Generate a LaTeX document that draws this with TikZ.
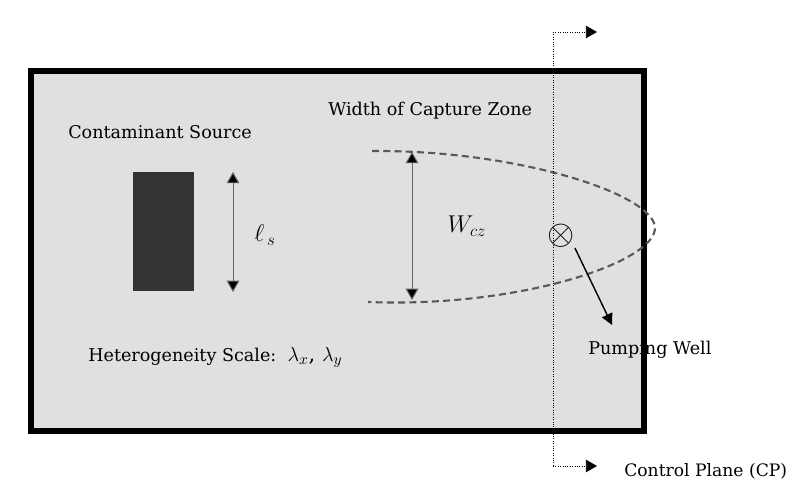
\documentclass[tikz,border=0pt]{standalone}
\usepackage{fontspec}
\setmainfont{DejaVu Serif}
\usetikzlibrary{arrows.meta}

\begin{document}
\begin{tikzpicture}[x=0.025cm,y=-0.025cm,
    lbl/.style={font=\fontsize{12.5}{15}\selectfont, inner sep=0pt, anchor=west},
    dimarrow/.style={draw=black!60, line width=0.7pt, {Triangle[length=8pt,width=9pt,fill=black]}-{Triangle[length=8pt,width=9pt,fill=black]}},
    cparrow/.style={densely dotted, line width=0.7pt, -{Triangle[length=8pt,width=9pt]}}]
			\useasboundingbox (0,0) rectangle (802,504);
			
			% Domain
			\filldraw[fill=black!12, draw=black, line width=4pt] (31,71) rectangle (644,431);
			
			% Define nodes
			\node (src) at (163.5,231.5) [fill=black!80, minimum width=61*0.025cm, minimum height=119*0.025cm, inner sep=0pt] {};
			\node (srclbl) at (68,132) [lbl] {Contaminant Source};
			\node (czlbl) at (328,111) [lbl] {Width of Capture Zone};
			\node (hetlbl) at (88,357) [lbl] {Heterogeneity Scale:\ \ {\fontsize{15}{17}\selectfont$\lambda_x$, $\lambda_y$}};
			\node (ls) at (265,235) [inner sep=0pt] {\fontsize{17}{19}\selectfont$\ell_{\,s}$};
			\node (wcz) at (467,226) [inner sep=0pt] {\fontsize{18}{20}\selectfont$W_{cz}$};
			\node (well) at (561,236) [inner sep=0pt] {\fontsize{23}{25}\selectfont$\otimes$};
			\node (welllbl) at (588,350) [lbl] {Pumping Well};
			\node (cplbl) at (624,471) [lbl, font=\fontsize{12.2}{15}\selectfont] {Control Plane (CP)};
			
			\coordinate (ls1) at (233,172);
			\coordinate (ls2) at (233,292);
			\coordinate (wz1) at (412,152);
			\coordinate (wz2) at (412,300);
			\coordinate (wellend) at (612,325);
			\coordinate (cptop) at (553,32);
			\coordinate (cpbot) at (553,466);
			\coordinate (cptopr) at (597,32);
			\coordinate (cpbotr) at (597,466);
			
			% Capture zone
			\draw[black!65, line width=1.5pt, dash pattern=on 5pt off 3pt]
			  (372,151) .. controls (520,150) and (655,195) .. (655,228)
			  .. controls (655,262) and (520,308) .. (368,302);
			
			% Draw arrows
			\draw[dimarrow] (ls1) -- (ls2);
			\draw[dimarrow] (wz1) -- (wz2);
			\draw[line width=1pt, -{Triangle[length=8pt,width=8pt]}] (well.south east) -- (wellend);
			
			% Control plane
			\draw[densely dotted, line width=0.7pt] (cptop) -- (cpbot);
			\draw[cparrow] (cptop) -- (cptopr);
			\draw[cparrow] (cpbot) -- (cpbotr);
		\end{tikzpicture}
\end{document}
